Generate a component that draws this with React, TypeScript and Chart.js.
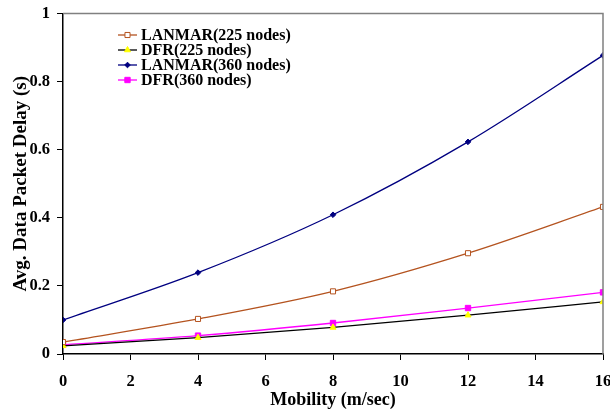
import React, { useEffect, useRef } from "react";
import { Chart, registerables } from "chart.js";

Chart.register(...registerables);

const mobility = [0, 4, 8, 12, 16];
const lanmar225 = [0.035, 0.103, 0.184, 0.296, 0.432];
const dfr225 = [0.024, 0.048, 0.078, 0.114, 0.153];
const lanmar360 = [0.1, 0.239, 0.409, 0.623, 0.877];
const dfr360 = [0.027, 0.054, 0.091, 0.135, 0.181];
const seriesLabels = ["LANMAR(225 nodes)", "DFR(225 nodes)", "LANMAR(360 nodes)", "DFR(360 nodes)"];
const xTitle = "Mobility (m/sec)";
const yTitle = "Avg. Data Packet Delay (s)";

const FONT = "'Liberation Serif', 'Times New Roman', serif";

type Sty = { line: string; fill: string; stroke: string; style: string; r: number };
const styles: Sty[] = [
  { line: "#b4531f", fill: "#ffffff", stroke: "#b4531f", style: "rect", r: 3.6 },
  { line: "#000000", fill: "#ffff00", stroke: "#ffff00", style: "triangle", r: 3.5 },
  { line: "#000080", fill: "#000080", stroke: "#000080", style: "rectRot", r: 2.8 },
  { line: "#ff00ff", fill: "#ff00ff", stroke: "#ff00ff", style: "rect", r: 3.8 },
];

function drawMarker(ctx: CanvasRenderingContext2D, s: Sty, x: number, y: number) {
  ctx.save();
  ctx.fillStyle = s.fill;
  ctx.strokeStyle = s.stroke;
  ctx.lineWidth = 1;
  ctx.beginPath();
  if (s.style === "rect") {
    const h = s.r * Math.SQRT1_2;
    ctx.rect(x - h, y - h, 2 * h, 2 * h);
  } else if (s.style === "rectRot") {
    ctx.moveTo(x, y - s.r);
    ctx.lineTo(x + s.r, y);
    ctx.lineTo(x, y + s.r);
    ctx.lineTo(x - s.r, y);
    ctx.closePath();
  } else {
    const r = s.r;
    ctx.moveTo(x, y - r);
    ctx.lineTo(x + r * 0.866, y + r * 0.5);
    ctx.lineTo(x - r * 0.866, y + r * 0.5);
    ctx.closePath();
  }
  ctx.fill();
  ctx.stroke();
  ctx.restore();
}

const legendPlugin = {
  id: "customLegend",
  afterDraw(chart: any) {
    const ctx: CanvasRenderingContext2D = chart.ctx;
    const { top, right, left, bottom } = chart.chartArea;
    ctx.save();
    ctx.strokeStyle = "#808080";
    ctx.lineWidth = 1.5;
    ctx.beginPath();
    ctx.moveTo(left, top);
    ctx.lineTo(right, top);
    ctx.lineTo(right, bottom);
    ctx.stroke();
    ctx.font = `bold 16px ${FONT}`;
    ctx.textBaseline = "middle";
    const x0 = 118;
    const y0 = 35;
    const dy = 15;
    seriesLabels.forEach((lab, i) => {
      const y = y0 + i * dy;
      const s = styles[i];
      ctx.strokeStyle = s.line;
      ctx.lineWidth = 1.3;
      ctx.beginPath();
      ctx.moveTo(x0, y);
      ctx.lineTo(x0 + 19, y);
      ctx.stroke();
      drawMarker(ctx, s, x0 + 9.5, y);
      ctx.fillStyle = "#000";
      ctx.fillText(lab, x0 + 23, y + 1);
    });
    ctx.restore();
  },
};

export default function App() {
  const ref = useRef<HTMLCanvasElement | null>(null);
  useEffect(() => {
    document.body.style.margin = "0";
    const values = [lanmar225, dfr225, lanmar360, dfr360];
    const chart = new Chart(ref.current as HTMLCanvasElement, {
      type: "line",
      data: {
        datasets: values.map((v, i) => ({
          label: seriesLabels[i],
          data: mobility.map((x, j) => ({ x, y: v[j] })),
          borderColor: styles[i].line,
          borderWidth: 1.3,
          pointStyle: styles[i].style as any,
          pointRadius: styles[i].r,
          pointBackgroundColor: styles[i].fill,
          pointBorderColor: styles[i].stroke,
          pointBorderWidth: 1,
          cubicInterpolationMode: "monotone" as const,
          fill: false,
        })),
      },
      options: {
        animation: false,
        responsive: false,
        layout: { padding: { left: 0, top: 13.5, right: 7, bottom: 0 } },
        plugins: { legend: { display: false }, tooltip: { enabled: false } },
        scales: {
          x: {
            type: "linear",
            min: 0,
            max: 16,
            ticks: { stepSize: 2, color: "#000", font: { family: FONT, size: 16.5, weight: "bold" }, padding: 12 },
            grid: { drawOnChartArea: false, drawTicks: true, tickLength: 6, color: "#000", tickColor: "#000" },
            border: { color: "#000", width: 1.5 },
            title: { display: true, text: xTitle, color: "#000", font: { family: FONT, size: 18, weight: "bold" }, padding: { top: 0, bottom: 1 } },
            afterFit: (s: any) => { s.height = 58; s.paddingLeft = 0; s.paddingRight = 0; },
          },
          y: {
            min: 0,
            max: 1,
            ticks: {
              stepSize: 0.2,
              color: "#000",
              font: { family: FONT, size: 16.5, weight: "bold" },
              padding: 7,
              callback: (v: any) => String(Math.round(Number(v) * 10) / 10),
            },
            grid: { drawOnChartArea: false, drawTicks: true, tickLength: 6, color: "#000", tickColor: "#000" },
            border: { color: "#000", width: 1.5 },
            title: { display: true, text: yTitle, color: "#000", font: { family: FONT, size: 19, weight: "bold" }, padding: { top: 10, bottom: 0 } },
            afterFit: (s: any) => { s.width = 63; s.paddingTop = 0; s.paddingBottom = 0; },
          },
        },
      },
      plugins: [legendPlugin],
    });
    return () => chart.destroy();
  }, []);
  return (
    <div style={{ position: "absolute", left: 0, top: 0, width: 610, height: 412, background: "#fff" }}>
      <canvas ref={ref} width={610} height={412} style={{ width: 610, height: 412 }} />
    </div>
  );
}
